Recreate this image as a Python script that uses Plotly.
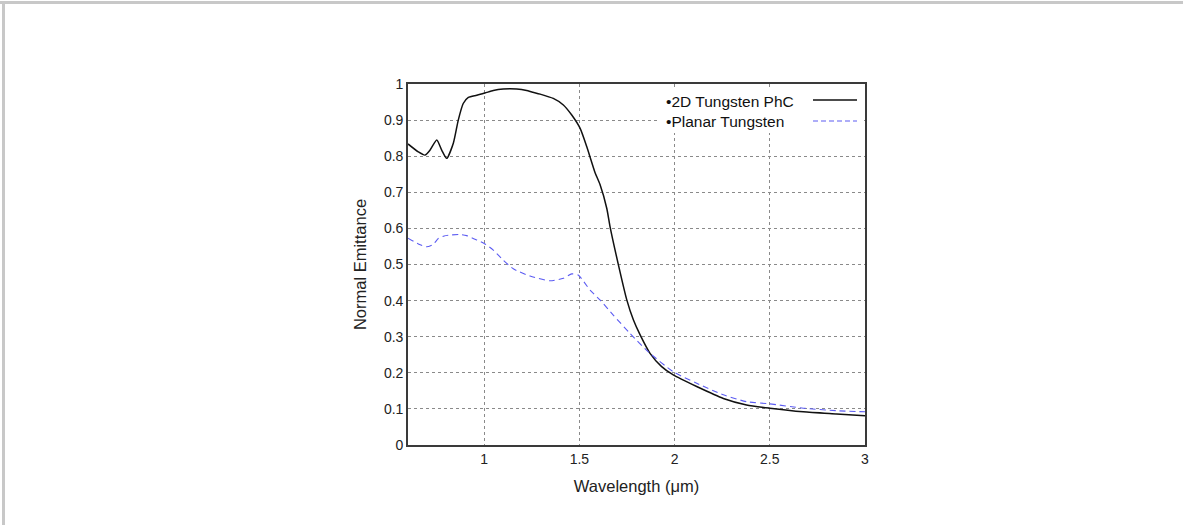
import plotly.graph_objects as go

# 2D Tungsten PhC (black solid)
phc_x = [0.60, 0.654, 0.689, 0.716, 0.751, 0.777, 0.803, 0.838, 0.864, 0.890, 0.917, 0.961,
         1.004, 1.048, 1.10, 1.171, 1.223, 1.25, 1.294, 1.363, 1.416, 1.46, 1.504, 1.539,
         1.582, 1.608, 1.644, 1.661, 1.705, 1.749, 1.784, 1.819, 1.871, 1.932, 1.993,
         2.116, 2.256, 2.378, 2.50, 2.676, 2.851, 3.0]
phc_y = [0.834, 0.812, 0.803, 0.817, 0.845, 0.817, 0.794, 0.836, 0.900, 0.946, 0.963, 0.969,
         0.975, 0.982, 0.986, 0.986, 0.982, 0.978, 0.972, 0.960, 0.942, 0.914, 0.877, 0.826,
         0.755, 0.722, 0.655, 0.605, 0.499, 0.402, 0.346, 0.305, 0.254, 0.217, 0.194,
         0.162, 0.129, 0.111, 0.102, 0.092, 0.086, 0.081]

# Planar Tungsten (blue dashed)
pl_x = [0.60, 0.654, 0.698, 0.733, 0.759, 0.790, 0.830, 0.870, 0.908, 0.961, 1.004, 1.048, 1.10,
        1.153, 1.241, 1.346, 1.416, 1.46, 1.494, 1.556, 1.608, 1.678, 1.766, 1.862, 1.993,
        2.116, 2.256, 2.378, 2.50, 2.676, 2.851, 3.0]
pl_y = [0.573, 0.557, 0.549, 0.556, 0.572, 0.579, 0.582, 0.583, 0.580, 0.568, 0.557, 0.540, 0.512,
        0.488, 0.468, 0.455, 0.462, 0.474, 0.471, 0.429, 0.402, 0.360, 0.309, 0.258, 0.203,
        0.171, 0.139, 0.120, 0.114, 0.102, 0.095, 0.092]

x_ticks = [1, 1.5, 2, 2.5, 3]
x_tick_labels = ["1", "1.5", "2", "2.5", "3"]
y_ticks = [0, 0.1, 0.2, 0.3, 0.4, 0.5, 0.6, 0.7, 0.8, 0.9, 1]
y_tick_labels = ["0", "0.1", "0.2", "0.3", "0.4", "0.5", "0.6", "0.7", "0.8", "0.9", "1"]
legend_names = ["•2D Tungsten PhC", "•Planar Tungsten"]

W, H = 1183, 525
L, R, T, B = 408, 865, 84, 445

BLUE = "#5c5cf2"
BLACK = "#111111"


def px(x):
    return (x - L) / (R - L)


def py(y):
    return (B - y) / (B - T)


fig = go.Figure()
fig.add_trace(go.Scatter(x=phc_x, y=phc_y, mode="lines", name=legend_names[0],
                         line=dict(color=BLACK, width=1.5, shape="spline", smoothing=0.6)))
fig.add_trace(go.Scatter(x=pl_x, y=pl_y, mode="lines", name=legend_names[1],
                         line=dict(color=BLUE, width=1.1, dash="6px,4px", shape="spline", smoothing=0.6)))

font = "Liberation Sans, Arial, sans-serif"
axis_common = dict(showgrid=True, gridcolor="#8a8a8a", gridwidth=1, griddash="dot",
                   showline=True, linecolor="#3a3a3a", linewidth=1.6, mirror=True,
                   zeroline=False, ticks="", tickfont=dict(size=14, color="#222222", family=font))

fig.update_xaxes(range=[0.6, 3], tickvals=x_ticks, ticktext=x_tick_labels,
                 title=dict(text="Wavelength (μm)", font=dict(size=16.5, color="#222222", family=font), standoff=15),
                 **axis_common)
fig.update_yaxes(range=[0, 1], tickvals=y_ticks, ticktext=y_tick_labels,
                 title=dict(text="Normal Emittance", font=dict(size=16.5, color="#222222", family=font), standoff=13),
                 **axis_common)

shapes = []
# legend white box
shapes.append(dict(type="rect", xref="paper", yref="paper", x0=px(657), x1=px(863), y0=py(133), y1=py(87),
                   fillcolor="white", line=dict(width=0), layer="above"))
# legend line samples
shapes.append(dict(type="line", xref="paper", yref="paper", x0=px(813), x1=px(857), y0=py(100), y1=py(100),
                   line=dict(color=BLACK, width=1.5), layer="above"))
shapes.append(dict(type="line", xref="paper", yref="paper", x0=px(813), x1=px(857), y0=py(121), y1=py(121),
                   line=dict(color=BLUE, width=1.1, dash="5px,3px"), layer="above"))
# outer gray frame (top and left)
shapes.append(dict(type="rect", xref="paper", yref="paper", x0=px(0), x1=px(W), y0=py(4), y1=py(1),
                   fillcolor="#c8c8c8", line=dict(width=0), layer="above"))
shapes.append(dict(type="rect", xref="paper", yref="paper", x0=px(2), x1=px(5), y0=py(H), y1=py(1),
                   fillcolor="#c8c8c8", line=dict(width=0), layer="above"))

annotations = [
    dict(text=legend_names[0], xref="paper", yref="paper", x=px(664), y=py(101), xanchor="left",
         yanchor="middle", showarrow=False, font=dict(size=15.5, color="#111111", family=font)),
    dict(text=legend_names[1], xref="paper", yref="paper", x=px(664), y=py(121), xanchor="left",
         yanchor="middle", showarrow=False, font=dict(size=15.5, color="#111111", family=font)),
]

fig.update_layout(width=W, height=H, margin=dict(l=L, r=W - R, t=T, b=H - B),
                  paper_bgcolor="white", plot_bgcolor="white", showlegend=False,
                  shapes=shapes, annotations=annotations, font=dict(family=font))

fig.write_html("out.html")
